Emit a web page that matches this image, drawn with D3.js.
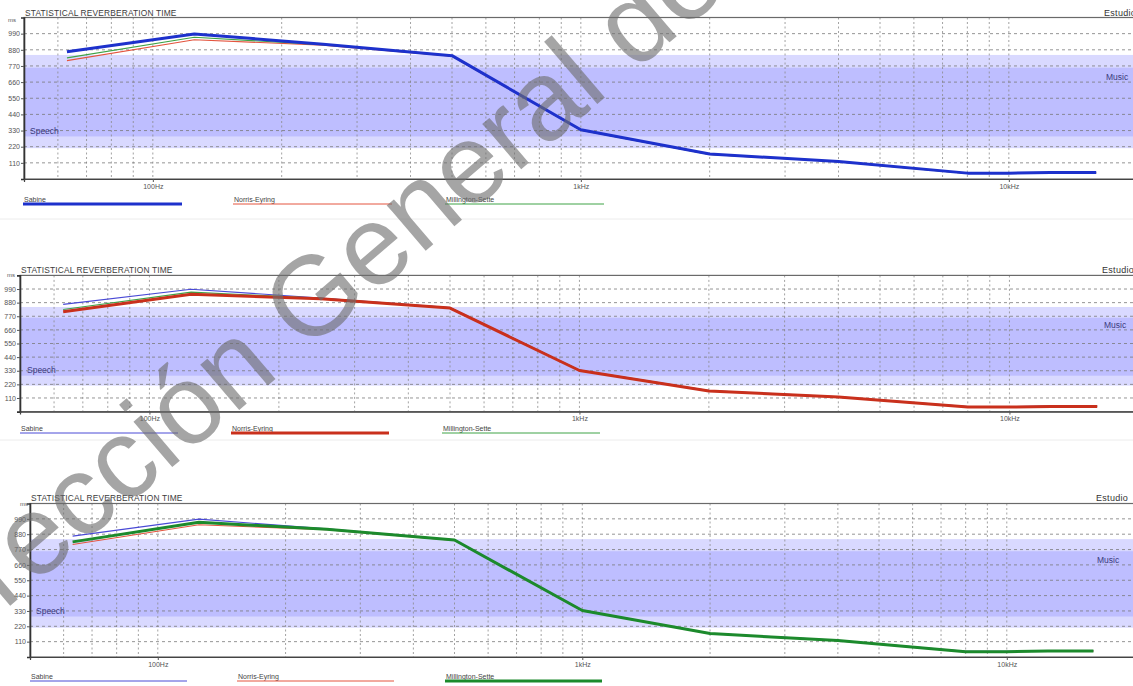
<!DOCTYPE html>
<html>
<head>
<meta charset="utf-8">
<script src="https://cdn.jsdelivr.net/npm/d3@7"></script>
<style>
  body { margin: 0; background: #fff; }
  svg { display: block; }
  text { font-family: "Liberation Sans", Arial, sans-serif; }
</style>
</head>
<body>
<svg id="chart" width="1133" height="686"></svg>
<script>
// Octave / band centre frequencies (Hz) of the computed reverberation times
const bandFreqs = [63, 125, 250, 500, 1000, 2000, 4000, 8000, 10000, 12500, 16000];
// Reverberation time (ms) per formula
const sabine          = [866, 988, 918, 840, 335, 170, 120, 40, 40, 45, 45];
const norrisEyring    = [806, 948, 912, 836, 332, 167, 117, 37, 37, 42, 42];
const millingtonSette = [825, 965, 915, 838, 333, 168, 118, 38, 38, 43, 43];

const seriesNames  = ["Sabine", "Norris-Eyring", "Millington-Sette"];
const seriesValues = [sabine, norrisEyring, millingtonSette];

// Axis content
const yTicks     = [110, 220, 330, 440, 550, 660, 770, 880, 990];
const xTickFreqs = [100, 1000, 10000];
const xTickText  = ["100Hz", "1kHz", "10kHz"];
const gridFreqs  = [60, 70, 80, 90, 100, 200, 300, 400, 500, 600, 700, 800, 900,
                    1000, 2000, 3000, 4000, 5000, 6000, 7000, 8000, 9000, 10000];
const freqDomain = [50, 20000];
const msDomain   = [0, 1100];

// Recommended ranges (ms)
const musicBand  = [290, 845];
const speechBand = [210, 758];

// Styling
const thinColors  = ["#4a4ad6", "#e4553f", "#3fa347"];
const thickColors = ["#1d31cc", "#c9301c", "#1c8a2c"];

// Layout of the three stacked panels; each one highlights a different formula
const panels = [
  { focus: 0, left: 24, top: 17.5, bottom: 179, decade: 428,
    titleY: 15.5, msPos: [8, 22], estudioPos: [1104, 15.5], musicPos: [1106, 80], speechPos: [30, 134],
    xLabelY: 189, legendTextY: 201.5, legendLineY: 204, legendX: [23, 233, 445], legendLen: 159 },
  { focus: 1, left: 20, top: 275.4, bottom: 411.6, decade: 430,
    titleY: 273, msPos: [7, 277], estudioPos: [1102, 273], musicPos: [1104, 328], speechPos: [27, 373],
    xLabelY: 421, legendTextY: 430.5, legendLineY: 433, legendX: [20, 231, 442], legendLen: 158 },
  { focus: 2, left: 30, top: 503.5, bottom: 657, decade: 424.5,
    titleY: 500.5, msPos: [20, 506], estudioPos: [1096, 500.5], musicPos: [1097, 563], speechPos: [36, 614],
    xLabelY: 667, legendTextY: 679, legendLineY: 681, legendX: [30, 237, 445], legendLen: 157 }
];

const svg = d3.select("#chart");

// faint separators between the panels
[219, 440].forEach(y => {
  svg.append("line").attr("x1", 0).attr("x2", 1133).attr("y1", y).attr("y2", y)
    .attr("stroke", "#ececec").attr("stroke-width", 1);
});

panels.forEach(p => {
  const right = p.left + p.decade * Math.log10(freqDomain[1] / freqDomain[0]);
  const x = d3.scaleLog().domain(freqDomain).range([p.left, right]);
  const y = d3.scaleLinear().domain(msDomain).range([p.bottom, p.top]);
  const g = svg.append("g");

  // recommended ranges
  [musicBand, speechBand].forEach(b => {
    g.append("rect")
      .attr("x", p.left).attr("width", right - p.left)
      .attr("y", y(b[1])).attr("height", y(b[0]) - y(b[1]))
      .attr("fill", "#7b7bff").attr("fill-opacity", 0.29);
  });

  // vertical grid
  g.append("g").selectAll("line").data(gridFreqs).join("line")
    .attr("x1", d => x(d)).attr("x2", d => x(d))
    .attr("y1", p.top).attr("y2", p.bottom)
    .attr("stroke", "#8a8a8a").attr("stroke-width", 0.8)
    .attr("stroke-dasharray", "2,2.5");

  // horizontal grid
  g.append("g").selectAll("line").data(yTicks).join("line")
    .attr("x1", p.left).attr("x2", right)
    .attr("y1", d => y(d)).attr("y2", d => y(d))
    .attr("stroke", "#7a7a7a").attr("stroke-width", 0.8)
    .attr("stroke-dasharray", "3,3");

  // frame
  g.append("rect").attr("x", p.left).attr("y", p.top)
    .attr("width", right - p.left).attr("height", p.bottom - p.top)
    .attr("fill", "none").attr("stroke", "#6a6a6a").attr("stroke-width", 1.2);

  // y axis
  const yAxis = d3.axisLeft(y).tickValues(yTicks).tickSize(3).tickPadding(1);
  const ya = g.append("g").attr("transform", `translate(${p.left},0)`).call(yAxis);
  ya.select(".domain").attr("stroke", "#333").attr("stroke-width", 1.6);
  ya.selectAll(".tick line").attr("stroke", "#555");
  ya.selectAll(".tick text").attr("fill", "#555").attr("font-size", 7)
    .attr("font-family", "'Liberation Sans', Arial, sans-serif");

  // x axis (decade labels only)
  const xAxis = d3.axisBottom(x).tickValues(xTickFreqs)
    .tickFormat((d, i) => xTickText[i]).tickSize(3).tickPadding(2);
  const xa = g.append("g").attr("transform", `translate(0,${p.bottom})`).call(xAxis);
  xa.select(".domain").attr("stroke", "#444").attr("stroke-width", 1.2);
  xa.selectAll(".tick line").attr("stroke", "#555");
  xa.selectAll(".tick text").attr("fill", "#555").attr("font-size", 7)
    .attr("font-family", "'Liberation Sans', Arial, sans-serif")
    .attr("y", null).attr("dy", null)
    .attr("transform", `translate(0,${p.xLabelY - p.bottom})`);

  // range labels
  g.append("text").attr("x", p.musicPos[0]).attr("y", p.musicPos[1])
    .attr("font-size", 8.5).attr("fill", "#3a3a7e").text("Music");
  g.append("text").attr("x", p.speechPos[0]).attr("y", p.speechPos[1])
    .attr("font-size", 8.5).attr("fill", "#3a3a7e").text("Speech");

  // titles
  g.append("text").attr("x", p.left + 1).attr("y", p.titleY)
    .attr("font-size", 8.4).attr("fill", "#3c3c3c").attr("letter-spacing", 0.15)
    .text("STATISTICAL REVERBERATION TIME");
  g.append("text").attr("x", p.msPos[0]).attr("y", p.msPos[1])
    .attr("font-size", 6).attr("fill", "#555").text("ms");
  g.append("text").attr("x", p.estudioPos[0]).attr("y", p.estudioPos[1])
    .attr("font-size", 9).attr("fill", "#333").attr("letter-spacing", 0.3).text("Estudio");

  // curves: thin ones first, highlighted formula on top
  const line = d3.line().x((d, i) => x(bandFreqs[i])).y(d => y(d));
  seriesValues.forEach((vals, i) => {
    if (i === p.focus) return;
    g.append("path").datum(vals).attr("d", line)
      .attr("fill", "none").attr("stroke", thinColors[i]).attr("stroke-width", 1.1);
  });
  g.append("path").datum(seriesValues[p.focus]).attr("d", line)
    .attr("fill", "none").attr("stroke", thickColors[p.focus])
    .attr("stroke-width", 3).attr("stroke-linejoin", "round");

  // legend
  seriesNames.forEach((name, i) => {
    const lx = p.legendX[i];
    g.append("text").attr("x", lx + 1).attr("y", p.legendTextY)
      .attr("font-size", 7).attr("fill", "#444").text(name);
    g.append("line").attr("x1", lx).attr("x2", lx + p.legendLen)
      .attr("y1", p.legendLineY).attr("y2", p.legendLineY)
      .attr("stroke", i === p.focus ? thickColors[i] : thinColors[i])
      .attr("stroke-width", i === p.focus ? 3 : 1);
  });
});

// watermark across the page
svg.append("text")
  .attr("transform", "translate(-77,680) rotate(-40.5)")
  .attr("font-size", 113)
  .attr("fill", "#6e6e6e").attr("fill-opacity", 0.62)
  .text("Dirección General de");
</script>
</body>
</html>
